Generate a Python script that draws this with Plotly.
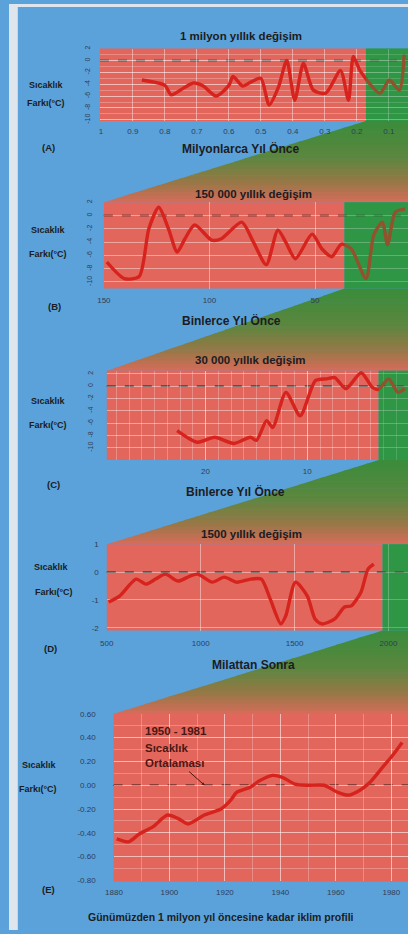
import plotly.graph_objects as go

W, H = 408, 934

# ---------------- data ----------------
# (A) 1 million years, x in millions of years before present
A_myr = [0.872, 0.80, 0.78, 0.74, 0.71, 0.68, 0.64, 0.60, 0.587, 0.557, 0.53, 0.50, 0.474,
         0.445, 0.419, 0.394, 0.367, 0.336, 0.297, 0.251, 0.226, 0.211, 0.19, 0.128, 0.098, 0.067, 0.052]
A_temp = [-3.3, -4.2, -5.8, -4.6, -3.8, -4.3, -6.0, -4.2, -2.7, -4.3, -3.6, -3.0, -7.5,
          -4.5, 0.0, -6.7, -0.5, -5.0, -5.5, -1.7, -6.7, 0.7, -1.7, -5.5, -3.3, -5.0, 1.0]
A_ticks = [1.0, 0.9, 0.8, 0.7, 0.6, 0.5, 0.4, 0.3, 0.2, 0.1]
A_ticktext = ["1", "0.9", "0.8", "0.7", "0.6", "0.5", "0.4", "0.3", "0.2", "0.1"]

# (B) 150 000 years, x in thousands of years before present
B_kyr = [148.6, 140.3, 133.3, 128.7, 124.0, 119.4, 115.3, 111.6, 107.0, 99.0, 94.4, 84.7, 79.2,
         73.1, 67.6, 63.9, 59.3, 51.4, 46.8, 42.1, 37.5, 32.9, 25.9, 22.2, 18.1, 15.7, 12.0, 7.4]
B_temp = [-7.0, -9.5, -9.2, -2.0, 1.25, -2.0, -5.5, -3.5, -1.4, -3.7, -3.5, -1.0, -4.0,
          -7.4, -2.2, -4.0, -6.5, -2.8, -5.0, -6.2, -4.3, -5.0, -9.5, -2.9, -1.0, -4.4, 0.5, 1.0]
B_ticks = [150, 100, 50]
B_ticktext = ["150", "100", "50"]

# (C) 30 000 years, x in thousands of years before present
C_kyr = [22.8, 20.8, 19.1, 17.2, 15.6, 15.0, 14.0, 13.4, 12.1, 10.7, 9.2, 8.1, 7.3, 6.2,
         4.7, 3.6, 3.0, 2.0, 1.1, 0.4]
C_temp = [-7.2, -9.1, -8.3, -9.3, -8.3, -8.8, -5.6, -6.7, -1.0, -4.8, 0.9, 1.2, 1.4, -0.4,
          2.2, -0.2, -0.5, 1.2, -1.0, -0.4]
C_ticks = [30, 20, 10]
C_ticktext = ["30", "20", "10"]

# (D) 1500 years, x in years AD
D_year = [510, 568, 656, 708, 760, 812, 880, 943, 984, 1062, 1125, 1193, 1266, 1323, 1370,
          1427, 1453, 1505, 1568, 1609, 1646, 1714, 1766, 1802, 1854, 1891, 1922]
D_temp = [-1.07, -0.86, -0.25, -0.43, -0.25, -0.07, -0.32, -0.14, -0.07, -0.36, -0.18, -0.36,
          -0.25, -0.25, -0.96, -1.86, -1.57, -0.36, -0.86, -1.68, -1.86, -1.68, -1.25, -1.21,
          -0.71, 0.11, 0.29]
D_ticks = [500, 1000, 1500, 2000]
D_ticktext = ["500", "1000", "1500", "2000"]
D_yticks = [1, 0, -1, -2]
D_yticktext = ["1", "0", "-1", "-2"]

# (E) 1880-1985, x in years AD
E_year = [1881, 1885.3, 1889.1, 1894, 1899.3, 1903.2, 1906.7, 1912.6, 1918.6, 1922.1, 1924.2,
          1929.1, 1932.6, 1937.2, 1940.7, 1945.3, 1950.2, 1955.8, 1960.7, 1964.6, 1968.8,
          1972.3, 1976.8, 1980.4, 1983.9]
E_temp = [-0.45, -0.475, -0.41, -0.35, -0.25, -0.28, -0.325, -0.25, -0.2, -0.125, -0.06,
          -0.017, 0.04, 0.083, 0.067, 0.01, 0.0, 0.0, -0.06, -0.083, -0.04, 0.025, 0.15,
          0.25, 0.36]
E_xticks = [1880, 1900, 1920, 1940, 1960, 1980]
E_xticktext = ["1880", "1900", "1920", "1940", "1960", "1980"]
E_yticks = [0.6, 0.4, 0.2, 0.0, -0.2, -0.4, -0.6, -0.8]
E_yticktext = ["0.60", "0.40", "0.20", "0.00", "-0.20", "-0.40", "-0.60", "-0.80"]

T_ticks = [-10, -8, -6, -4, -2, 0, 2]
T_ticktext = ["-10", "-8", "-6", "-4", "-2", "0", "2"]

titles = ["1 milyon yıllık değişim", "150 000 yıllık değişim", "30 000 yıllık değişim",
          "1500 yıllık değişim"]
xtitles = ["Milyonlarca Yıl Önce", "Binlerce Yıl Önce", "Binlerce Yıl Önce", "Milattan Sonra"]
letters = ["(A)", "(B)", "(C)", "(D)", "(E)"]
caption = "Günümüzden 1 milyon yıl öncesine kadar iklim profili"
note_lines = ["1950 - 1981", "Sıcaklık", "Ortalaması"]

# ---------------- styling / layout ----------------
BLUE = "#5ba2da"
GRAY = "#dfe5ec"
RED_BG = "#e2665c"
GREEN = "#2f9646"
LINE = "#d6231d"
DARK = "#1c1c22"
TICK = "#2f3d58"
FONT = "Liberation Sans"


def X(p):
    return p / W


def Y(p):
    return 1 - p / H


panels = [
    dict(box=(93, 408, 45, 118), green=365, xr=[1.003, 0.040], yr=[-10.2, 2],
         x=A_myr, y=A_temp, xt=A_ticks, xtt=A_ticktext, yt=T_ticks, ytt=T_ticktext,
         yangle=-90, ystand=8, xstand=4, xminor=None, yminor=1),
    dict(box=(97, 408, 200, 287), green=343, xr=[150, 6], yr=[-11, 2],
         x=B_kyr, y=B_temp, xt=B_ticks, xtt=B_ticktext, yt=T_ticks, ytt=T_ticktext,
         yangle=-90, ystand=9, xstand=5, xminor=None, yminor=None),
    dict(box=(100, 408, 370, 460), green=378, xr=[29.71, 0.1], yr=[-12, 2.5],
         x=C_kyr, y=C_temp, xt=C_ticks, xtt=C_ticktext, yt=T_ticks, ytt=T_ticktext,
         yangle=-90, ystand=11, xstand=5, xminor=1.25, yminor=None),
    dict(box=(100, 408, 545, 632), green=382, xr=[500, 2104], yr=[-2.1, 1.0],
         x=D_year, y=D_temp, xt=D_ticks, xtt=D_ticktext, yt=D_yticks, ytt=D_yticktext,
         yangle=0, ystand=7, xstand=6, xminor=None, yminor=None),
    dict(box=(107, 408, 716, 885), green=None, xr=[1879.9, 1986], yr=[-0.808, 0.6],
         x=E_year, y=E_temp, xt=E_xticks, xtt=E_xticktext, yt=E_yticks, ytt=E_yticktext,
         yangle=0, ystand=17, xstand=5, xminor=10, yminor=0.1),
]

fig = go.Figure()
shapes = []
annotations = []
layout_axes = {}

# background: light border
shapes.append(dict(type="rect", xref="paper", yref="paper", x0=0, x1=X(9), y0=0, y1=1,
                   fillcolor=GRAY, line_width=0, layer="below"))
shapes.append(dict(type="rect", xref="paper", yref="paper", x0=0, x1=1, y0=Y(3), y1=1,
                   fillcolor=GRAY, line_width=0, layer="below"))

# gradient connectors between panels (green -> olive -> salmon)
stops = [(0.0, (58, 140, 60)), (0.45, (92, 134, 62)), (0.75, (150, 120, 70)), (1.0, (214, 108, 90))]


def grad(t):
    for (t0, c0), (t1, c1) in zip(stops[:-1], stops[1:]):
        if t <= t1:
            f = (t - t0) / (t1 - t0) if t1 > t0 else 0
            return "rgb(%d,%d,%d)" % tuple(round(a + (b - a) * f) for a, b in zip(c0, c1))
    return "rgb(%d,%d,%d)" % stops[-1][1]


connectors = [(118, 365, 200, 97), (287, 343, 370, 100), (460, 378, 545, 100), (632, 382, 716, 107)]
N = 24
for (yt, xg, yb, xl) in connectors:
    for k in range(N):
        ya = yt + (yb - yt) * k / N
        yb2 = min(yt + (yb - yt) * (k + 1) / N + 0.6, yb)
        xa = xg + (xl - xg) * (ya - yt) / (yb - yt)
        xb = xg + (xl - xg) * (yb2 - yt) / (yb - yt)
        path = "M %f %f L %f %f L %f %f L %f %f Z" % (
            X(xa), Y(ya), X(408), Y(ya), X(408), Y(yb2), X(xb), Y(yb2))
        shapes.append(dict(type="path", xref="paper", yref="paper", path=path,
                           fillcolor=grad((k + 0.5) / N), line_width=0, layer="below"))

# plot backgrounds
for p in panels:
    x0, x1, y0, y1 = p["box"]
    gx = p["green"] if p["green"] else x1
    shapes.append(dict(type="rect", xref="paper", yref="paper", x0=X(x0), x1=X(gx),
                       y0=Y(y1), y1=Y(y0), fillcolor=RED_BG, line_width=0, layer="below"))
    if p["green"]:
        shapes.append(dict(type="rect", xref="paper", yref="paper", x0=X(gx), x1=X(x1),
                           y0=Y(y1), y1=Y(y0), fillcolor=GREEN, line_width=0, layer="below"))

for i, p in enumerate(panels):
    n = "" if i == 0 else str(i + 1)
    x0, x1, y0, y1 = p["box"]
    xa = dict(domain=[X(x0), X(x1)], range=p["xr"], anchor="y" + n, showline=False,
              zeroline=False, ticks="", tickmode="array", tickvals=p["xt"], ticktext=p["xtt"],
              tickfont=dict(family=FONT, size=8, color=TICK), ticklabelstandoff=p["xstand"],
              showgrid=True, gridcolor="rgba(255,255,255,0.42)", gridwidth=1,
              fixedrange=True)
    if p["xminor"]:
        xa["minor"] = dict(tickmode="linear", dtick=p["xminor"], showgrid=True,
                           gridcolor="rgba(255,255,255,0.25)", gridwidth=1, ticks="")
    ya = dict(domain=[Y(y1), Y(y0)], range=p["yr"], anchor="x" + n, showline=False,
              zeroline=False, ticks="", tickmode="array", tickvals=p["yt"], ticktext=p["ytt"],
              tickangle=p["yangle"], tickfont=dict(family=FONT, size=8 if i >= 3 else 7, color=TICK),
              ticklabelstandoff=p["ystand"], showgrid=True,
              gridcolor="rgba(255,255,255,0.42)", gridwidth=1, fixedrange=True)
    if p["yminor"]:
        ya["minor"] = dict(tickmode="linear", dtick=p["yminor"], showgrid=True,
                           gridcolor="rgba(255,255,255,0.25)", gridwidth=1, ticks="")
    layout_axes["xaxis" + n] = xa
    layout_axes["yaxis" + n] = ya

    # dashed zero line (reference level)
    shapes.append(dict(type="line", xref="x%s domain" % n, yref="y" + n, x0=0, x1=1, y0=0, y1=0,
                       line=dict(color="#2a1816", width=1.5, dash="dash"), layer="below"))

    fig.add_trace(go.Scatter(x=p["x"], y=p["y"], mode="lines", xaxis="x" + n, yaxis="y" + n,
                             line=dict(color=LINE, width=3.4, shape="spline", smoothing=0.7),
                             hoverinfo="skip", showlegend=False))

# darken the curve where it crosses the green zone
for p in panels:
    if p["green"]:
        x0, x1, y0, y1 = p["box"]
        shapes.append(dict(type="rect", xref="paper", yref="paper", x0=X(p["green"]), x1=X(x1),
                           y0=Y(y1), y1=Y(y0), fillcolor=GREEN, opacity=0.42, line_width=0,
                           layer="above"))


def txt(x, y, s, size, color=DARK, bold=True, xanchor="center"):
    annotations.append(dict(x=X(x), y=Y(y), xref="paper", yref="paper",
                            text=("<b>%s</b>" % s) if bold else s, showarrow=False,
                            xanchor=xanchor, yanchor="middle",
                            font=dict(family=FONT, size=size, color=color)))


title_pos = [(237, 32), (250, 192), (247, 359), (248, 535)]
xt_pos = [(237, 146), (228, 319), (232, 492), (250, 667)]
for s, (x, y) in zip(titles, title_pos):
    txt(x, y, s, 11.5)
for s, (x, y) in zip(xtitles, xt_pos):
    txt(x, y, s, 12)
letter_pos = [(40, 145), (47, 305), (45, 485), (42, 650), (40, 893)]
for s, (x, y) in zip(letters, letter_pos):
    txt(x, y, s, 9.5)

ytitle_pos = [((38, 82), (38, 100)), ((40, 228), (40, 252)), ((40, 400), (40, 425)),
              ((43, 568), (46, 593)), ((31, 768), (30, 792))]
for (a, b) in ytitle_pos:
    txt(a[0], a[1], "Sıcaklık", 9)
    txt(b[0], b[1], "Farkı(°C)", 9)

for s, yy in zip(note_lines, [733, 750, 766]):
    txt(137, yy, s, 11.5, color="#4a1814", xanchor="left")

annotations.append(dict(x=X(200), y=Y(788), xref="paper", yref="paper", ax=-17, ay=-15,
                        axref="pixel", ayref="pixel", text="", showarrow=True, arrowhead=2,
                        arrowsize=0.6, arrowwidth=1, arrowcolor="#4a1814"))

txt(217, 921, caption, 10.5)

fig.update_layout(width=W, height=H, autosize=False, margin=dict(l=0, r=0, t=0, b=0),
                  paper_bgcolor=BLUE, plot_bgcolor="rgba(0,0,0,0)", showlegend=False,
                  shapes=shapes, annotations=annotations, **layout_axes)

fig.write_html("out.html", config={"displayModeBar": False},
               post_script="document.body.style.margin='0';document.body.style.overflow='hidden';")
